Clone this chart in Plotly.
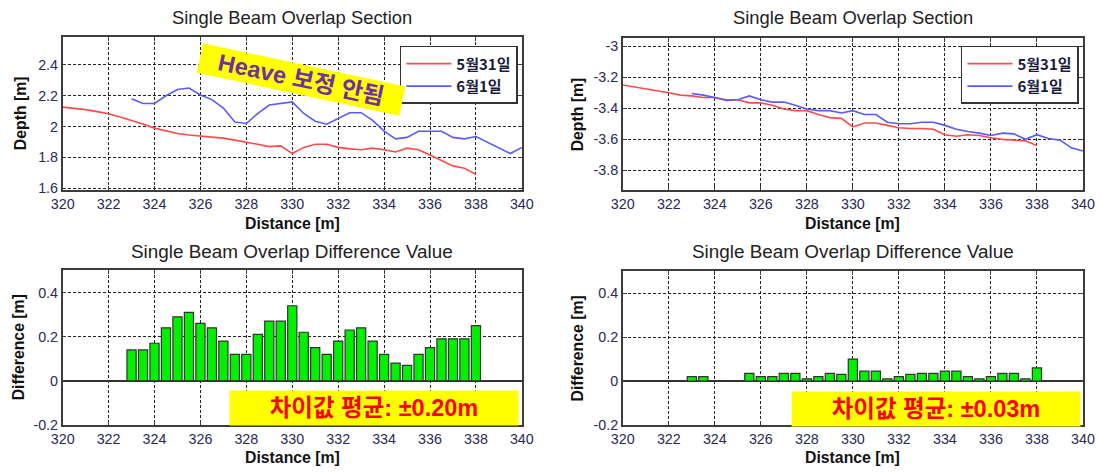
import plotly.graph_objects as go

# ---- data ----------------------------------------------------------------
# Survey line profiles, 0.5 m sampling
dist_0531 = [320 + 0.5 * i for i in range(37)]          # 320 .. 338
dist_0601 = [323 + 0.5 * i for i in range(35)]          # 323 .. 340
bar_dist = [323 + 0.5 * i for i in range(31)]           # 323 .. 338

# Left: without heave correction
depth_0531_a = [2.126, 2.12, 2.11, 2.097, 2.083, 2.062, 2.04, 2.017, 1.99, 1.97,
                1.955, 1.945, 1.937, 1.93, 1.925, 1.912, 1.90, 1.885, 1.87, 1.875,
                1.825, 1.865, 1.885, 1.885, 1.865, 1.855, 1.85, 1.86, 1.85, 1.835,
                1.86, 1.85, 1.815, 1.78, 1.745, 1.73, 1.69]
depth_0601_a = [2.18, 2.15, 2.15, 2.20, 2.24, 2.25, 2.205, 2.175, 2.12, 2.03,
                2.02, 2.085, 2.14, 2.15, 2.16, 2.085, 2.035, 2.015, 2.05, 2.09,
                2.09, 2.04, 1.97, 1.92, 1.93, 1.97, 1.97, 1.97, 1.93, 1.92,
                1.935, 1.90, 1.865, 1.825, 1.865]
diff_a = [0.14, 0.14, 0.17, 0.24, 0.29, 0.31, 0.26, 0.24, 0.18, 0.12,
          0.12, 0.21, 0.27, 0.27, 0.34, 0.22, 0.15, 0.12, 0.18, 0.23,
          0.24, 0.18, 0.12, 0.08, 0.07, 0.12, 0.15, 0.19, 0.19, 0.19, 0.25]

# Right: with heave correction
depth_0531_b = [-3.25, -3.262, -3.275, -3.287, -3.30, -3.315, -3.32, -3.33, -3.33, -3.345,
                -3.345, -3.365, -3.365, -3.38, -3.405, -3.415, -3.415, -3.44, -3.46, -3.465,
                -3.52, -3.495, -3.495, -3.51, -3.525, -3.53, -3.53, -3.535, -3.57, -3.58,
                -3.57, -3.575, -3.59, -3.60, -3.605, -3.61, -3.64]
depth_0601_b = [-3.305, -3.315, -3.33, -3.35, -3.345, -3.32, -3.345, -3.36, -3.36, -3.38,
                -3.405, -3.415, -3.415, -3.43, -3.415, -3.44, -3.44, -3.49, -3.50, -3.50,
                -3.49, -3.49, -3.51, -3.535, -3.55, -3.56, -3.575, -3.56, -3.565, -3.60,
                -3.57, -3.595, -3.605, -3.655, -3.675]
diff_b = [0.02, 0.02, 0.0, 0.0, 0.0, 0.035, 0.02, 0.02, 0.035, 0.035,
          0.01, 0.02, 0.035, 0.03, 0.10, 0.045, 0.045, 0.01, 0.02, 0.03,
          0.035, 0.035, 0.045, 0.045, 0.02, 0.01, 0.02, 0.035, 0.035, 0.01, 0.06]

series_names = ["5월31일", "6월1일"]
x_ticks = list(range(320, 341, 2))
y_ticks_a = [1.6, 1.8, 2.0, 2.2, 2.4]
y_labels_a = ["1.6", "1.8", "2", "2.2", "2.4"]
y_ticks_b = [-3.8, -3.6, -3.4, -3.2, -3.0]
y_labels_b = ["-3.8", "-3.6", "-3.4", "-3.2", "-3"]
y_ticks_d = [-0.2, 0.0, 0.2, 0.4]
y_labels_d = ["-0.2", "0", "0.2", "0.4"]

title_top = "Single Beam Overlap Section"
title_bottom = "Single Beam Overlap Difference Value"
note_heave = "Heave 보정 안됨"
note_mean_a = "차이값 평균: ±0.20m"
note_mean_b = "차이값 평균: ±0.03m"

# ---- styling ---------------------------------------------------------------
W, H = 1101, 473
RED = "#ff4a4a"
BLUE = "#5a5aff"
GREEN = "#00f000"
TICK_COLOR = "#2a2a55"
FONT = "Liberation Sans, Arial, Noto Sans CJK KR"
KFONT = "Noto Sans CJK KR"
MIXFONT = "Liberation Sans, Noto Sans CJK KR"


def px(x):
    return x / W


def py(y):
    return 1 - y / H


# panel boxes in pixels: (left, right, top, bottom)
boxes = {
    "a": (51.8, 521.2, 37.5, 193.5),
    "b": (624.4, 1094.8, 38.5, 193.5),
    "c": (51.8, 521.2, 275.1, 432.2),
    "d": (624.4, 1094.8, 276.1, 432.2),
}
ylabel_offset = {"a": 43, "b": 46.5, "c": 45, "d": 46.5}
title_y = {"a": 18.1, "b": 18.1, "c": 255.7, "d": 255.7}
title_size = {"a": 18.4, "b": 18.4, "c": 18.9, "d": 18.9}
xlabel_y = {"a": 227.2, "b": 227.2, "c": 465.5, "d": 465.5}

fig = go.Figure()

# line panels
for xa, ya, d1, d2, leg in [("x", "y", depth_0531_a, depth_0601_a, "legend"),
                            ("x2", "y2", depth_0531_b, depth_0601_b, "legend2")]:
    fig.add_trace(go.Scatter(x=dist_0531, y=d1, mode="lines", name=series_names[0],
                             line=dict(color=RED, width=1.6), xaxis=xa, yaxis=ya,
                             legend=leg))
    fig.add_trace(go.Scatter(x=dist_0601, y=d2, mode="lines", name=series_names[1],
                             line=dict(color=BLUE, width=1.6), xaxis=xa, yaxis=ya,
                             legend=leg))

# difference panels
for xa, ya, vals in [("x3", "y3", diff_a), ("x4", "y4", diff_b)]:
    fig.add_trace(go.Bar(x=bar_dist, y=vals, width=0.4, xaxis=xa, yaxis=ya,
                         marker=dict(color=GREEN, line=dict(color="#333333", width=1.2)),
                         showlegend=False))

axis_common = dict(
    showline=True, linecolor="#3c3c3c", linewidth=1.5, mirror="ticks",
    ticks="inside", ticklen=4, tickcolor="#3c3c3c",
    showgrid=True, gridcolor="#222222", gridwidth=1, griddash="3px,2px",
    tickfont=dict(family=FONT, size=14.3, color=TICK_COLOR),
    zeroline=False, fixedrange=True,
)

layout = dict(
    width=W, height=H, margin=dict(l=0, r=0, t=0, b=0),
    paper_bgcolor="white", plot_bgcolor="white",
    showlegend=True, bargap=0.2,
)

ranges_y = {
    "a": ([1.587, 2.582], y_ticks_a, y_labels_a),
    "b": ([-3.928, -2.946], y_ticks_b, y_labels_b),
    "c": ([-0.2, 0.5], y_ticks_d, y_labels_d),
    "d": ([-0.2, 0.5], y_ticks_d, y_labels_d),
}
for i, key in enumerate(["a", "b", "c", "d"]):
    l, r, t, b = boxes[key]
    suffix = "" if i == 0 else str(i + 1)
    yr, yt, yl = ranges_y[key]
    xa = dict(axis_common, domain=[px(l), px(r)], range=[320, 340],
              tickvals=x_ticks, ticktext=[str(v) for v in x_ticks],
              anchor="y" + suffix)
    ya = dict(axis_common, domain=[py(b), py(t)], range=yr,
              tickvals=yt, ticktext=yl, anchor="x" + suffix)
    if key in ("c", "d"):
        ya.update(zeroline=True, zerolinecolor="#333333", zerolinewidth=1.5)
    layout["xaxis" + suffix] = xa
    layout["yaxis" + suffix] = ya

legend_style = dict(
    bgcolor="white", bordercolor="#333333", borderwidth=1.5,
    font=dict(family=KFONT, size=15, color="#1b1b3b", weight="bold"),
    xanchor="right", yanchor="top", itemwidth=45, tracegroupgap=0,
)
layout["legend"] = dict(legend_style, x=px(517.1), y=py(46.7))
layout["legend2"] = dict(legend_style, x=px(1090.7), y=py(46.7))

fig.update_layout(**layout)

annotations = []
# panel titles and axis titles
for key in ["a", "b", "c", "d"]:
    l, r, t, b = boxes[key]
    cx = (l + r) / 2
    title = title_top if key in ("a", "b") else title_bottom
    annotations.append(dict(text=title, x=px(cx), y=py(title_y[key]),
                            xref="paper", yref="paper",
                            showarrow=False, xanchor="center", yanchor="middle",
                            font=dict(family=FONT, size=title_size[key], color="#222222")))
    annotations.append(dict(text="<b>Distance [m]</b>", x=px(cx), y=py(xlabel_y[key]),
                            xref="paper", yref="paper", showarrow=False,
                            xanchor="center", yanchor="middle",
                            font=dict(family=FONT, size=15.8, color="#111111")))
    ylabel = "Depth [m]" if key in ("a", "b") else "Difference [m]"
    annotations.append(dict(text="<b>" + ylabel + "</b>", x=px(l - ylabel_offset[key]),
                            y=py((t + b) / 2),
                            xref="paper", yref="paper", showarrow=False, textangle=-90,
                            xanchor="center", yanchor="middle",
                            font=dict(family=FONT, size=15.8, color="#111111")))

# rotated heave note
annotations.append(dict(text="<b>" + note_heave + "</b>", x=px(295.2), y=py(81.3),
                        xref="paper", yref="paper", showarrow=False, textangle=12,
                        xanchor="center", yanchor="middle",
                        bgcolor="#ffff00", width=206, height=29, borderpad=0,
                        font=dict(family=MIXFONT, size=23.5, color="#7030a0")))

# mean difference notes
for cx, cy, txt in [(369.8, 415.3, note_mean_a), (945.0, 415.9, note_mean_b)]:
    annotations.append(dict(text="<b>" + txt + "</b>", x=px(cx), y=py(cy),
                            xref="paper", yref="paper", showarrow=False,
                            xanchor="center", yanchor="middle",
                            bgcolor="#ffff00", width=288, height=34, borderpad=0,
                            font=dict(family=MIXFONT, size=23.5, color="#ff0000")))

fig.update_layout(annotations=annotations)

# keep the page exactly the size of the figure (no default body margin)
page_css = ("document.body.style.margin='0';"
            "document.body.style.padding='0';"
            "document.documentElement.style.overflow='hidden';")
fig.write_html("out.html", post_script=page_css)
